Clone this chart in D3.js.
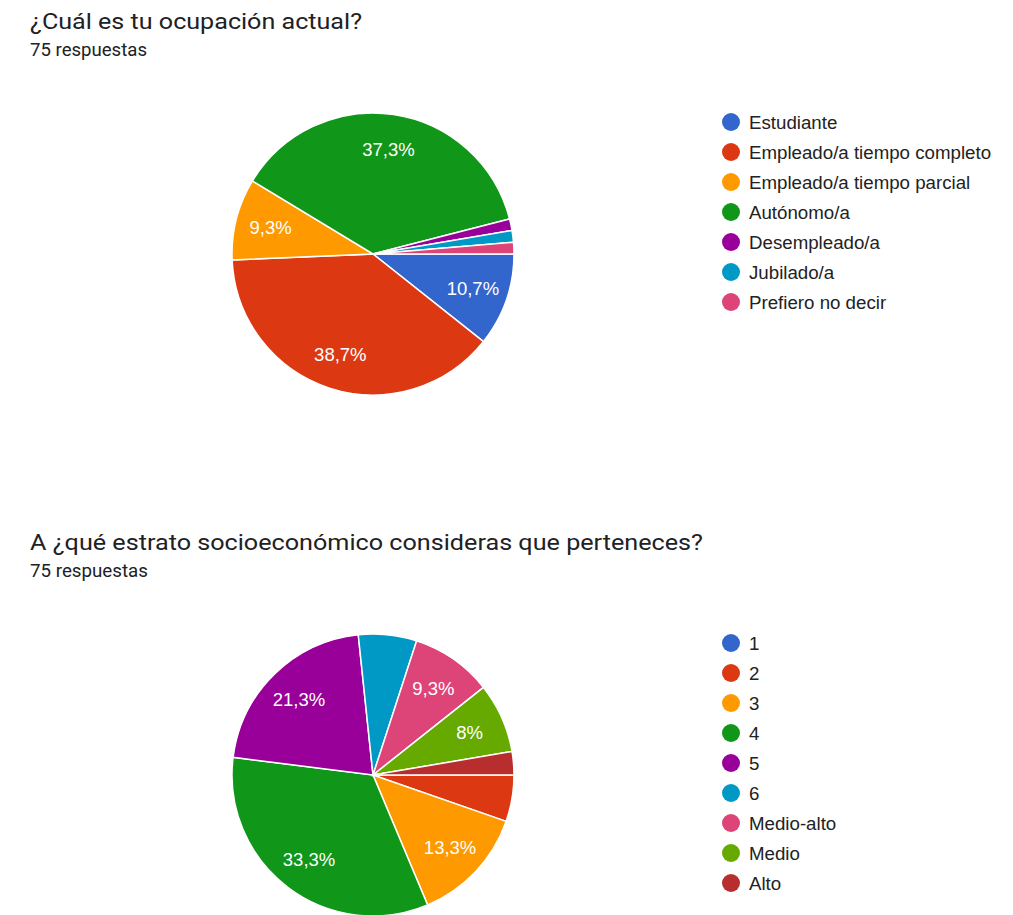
<!DOCTYPE html>
<html>
<head>
<meta charset="utf-8">
<script src="https://cdn.jsdelivr.net/npm/d3@7"></script>
<style>
html,body{margin:0;padding:0;background:#fff;}
svg{display:block;}
</style>
</head>
<body>
<svg id="chart" width="1013" height="915"></svg>
<script>
// ---- Data ----
const q1Title = "¿Cuál es tu ocupación actual?";
const q1Subtitle = "75 respuestas";
const q1Categories = ["Estudiante","Empleado/a tiempo completo","Empleado/a tiempo parcial","Autónomo/a","Desempleado/a","Jubilado/a","Prefiero no decir"];
const q1Counts = [8,29,7,28,1,1,1];

const q2Title = "A ¿qué estrato socioeconómico consideras que perteneces?";
const q2Subtitle = "75 respuestas";
const q2Categories = ["1","2","3","4","5","6","Medio-alto","Medio","Alto"];
const q2Counts = [0,4,10,25,16,5,7,6,2];

const palette = ["#3366cc","#dc3912","#ff9900","#109618","#990099","#0099c6","#dd4477","#66aa00","#b82e2e"];

// ---- Drawing ----
const svg = d3.select("#chart");

function fmtPct(p){
  const r = Math.round(p*10)/10;
  let s = (r % 1 === 0) ? r.toFixed(0) : r.toFixed(1);
  return s.replace(".", ",") + "%";
}

function drawSection(cfg){
  const g = svg.append("g");
  g.append("text")
    .attr("x", 30).attr("y", cfg.titleY)
    .attr("font-family","Roboto, Arial, sans-serif")
    .attr("font-size", 22)
    .attr("fill","#202124")
    .attr("textLength", cfg.titleLen).attr("lengthAdjust","spacingAndGlyphs")
    .text(cfg.title);
  g.append("text")
    .attr("x", 30).attr("y", cfg.titleY + 27)
    .attr("font-family","Roboto, Arial, sans-serif")
    .attr("font-size", 18)
    .attr("fill","#202124")
    .attr("textLength", cfg.subLen).attr("lengthAdjust","spacingAndGlyphs")
    .text(cfg.subtitle);

  const total = d3.sum(cfg.counts);
  const data = cfg.categories.map((c,i)=>({cat:c, value:cfg.counts[i], color:palette[i]}));
  const pie = d3.pie().sort(null).value(d=>d.value)
    .startAngle(Math.PI/2).endAngle(Math.PI/2 + 2*Math.PI);
  const arcs = pie(data).filter(d=>d.data.value>0);
  const r = 141;
  const arc = d3.arc().innerRadius(0).outerRadius(r);
  const labelArc = d3.arc().innerRadius(r*0.75).outerRadius(r*0.75);

  const pg = g.append("g").attr("transform", `translate(${cfg.cx},${cfg.cy})`);
  pg.selectAll("path").data(arcs).join("path")
    .attr("d", arc)
    .attr("fill", d=>d.data.color)
    .attr("stroke","#fff").attr("stroke-width",1.5);
  pg.selectAll("text").data(arcs.filter(d=>d.data.value/total*100 >= 7.5)).join("text")
    .attr("transform", d=>{const c = labelArc.centroid(d); return `translate(${c[0]},${c[1]})`;})
    .attr("text-anchor","middle").attr("dy","0.36em")
    .attr("font-family","Arial, 'Liberation Sans', sans-serif")
    .attr("font-size",18.5)
    .attr("fill","#fff")
    .text(d=>fmtPct(d.data.value/total*100));

  const lg = g.append("g").attr("transform", `translate(731,${cfg.legendY})`);
  const items = lg.selectAll("g").data(data).join("g")
    .attr("transform",(d,i)=>`translate(0,${i*30})`);
  items.append("circle").attr("r",9).attr("fill",d=>d.color);
  items.append("text").attr("x",18).attr("dy","0.36em")
    .attr("font-family","Arial, 'Liberation Sans', sans-serif")
    .attr("font-size",18.7).attr("fill","#222")
    .text(d=>d.cat);
}

drawSection({title:q1Title, subtitle:q1Subtitle, categories:q1Categories, counts:q1Counts,
  titleY:29, titleLen:332, subLen:117, cx:373, cy:254, legendY:122});
drawSection({title:q2Title, subtitle:q2Subtitle, categories:q2Categories, counts:q2Counts,
  titleY:550, titleLen:673, subLen:118, cx:373, cy:775, legendY:643});
</script>
</body>
</html>
